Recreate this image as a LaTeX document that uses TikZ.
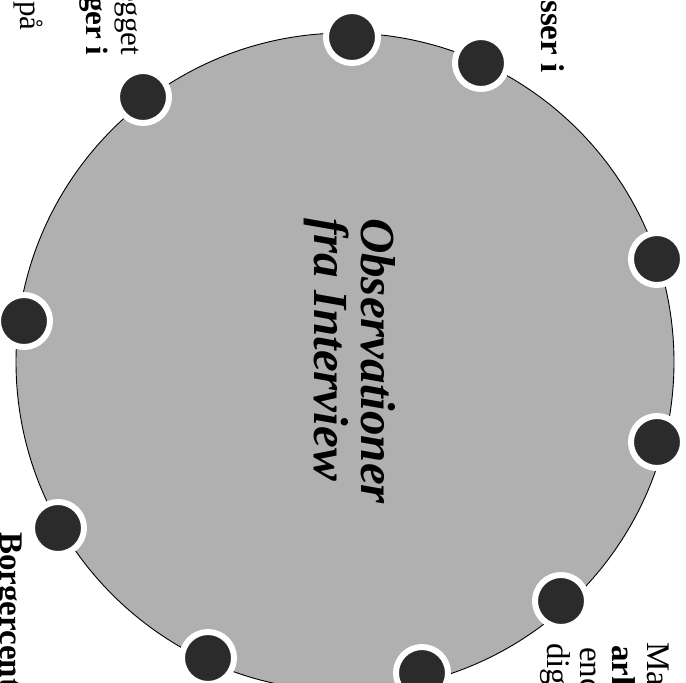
\documentclass[tikz,border=0pt]{standalone}
\usepackage{fontspec}
\setmainfont{Liberation Serif}
\definecolor{hubgray}{gray}{0.69}
\definecolor{satdark}{gray}{0.17}
\begin{document}
\begin{tikzpicture}[x=1pt,y=-1pt,
  hubstyle/.style={circle, fill=hubgray, draw=black, line width=0.9pt, minimum size=658pt, inner sep=0pt},
  sat/.style={circle, fill=satdark, draw=white, line width=6pt, minimum size=52pt, inner sep=0pt},
  bodytxt/.style={rotate=-90, anchor=base west, inner sep=0pt, font=\fontsize{33}{33}\selectfont},
  smalltxt/.style={rotate=-90, anchor=base west, inner sep=0pt, font=\fontsize{31}{31}\selectfont},
  titletxt/.style={rotate=-90, anchor=center, align=left, inner sep=0pt, font=\fontsize{49}{47}\selectfont\bfseries\itshape}
]
\useasboundingbox (0,0) rectangle (686,683);
\fill[white] (0,0) rectangle (686,683);
% central circle
\node[hubstyle] (hub) at (345,362) {};
\node[titletxt] (title) at (350,361) {Observationer\\fra Interview};
% satellites
\node[sat] (s1) at (143,97) {};
\node[sat] (s2) at (352,37) {};
\node[sat] (s3) at (481,63) {};
\node[sat] (s4) at (657,259) {};
\node[sat] (s5) at (657,442) {};
\node[sat] (s6) at (561,601) {};
\node[sat] (s7) at (422,673) {};
\node[sat] (s8) at (208,658) {};
\node[sat] (s9) at (58,528) {};
\node[sat] (s10) at (24,321) {};
% text fragments cut by the picture's edges
\node[smalltxt] (tl1) at (121,-19) {ægget};
\node[smalltxt] (tl2) at (86,-4) {\textbf{ger i}};
\node[smalltxt] (tl3) at (20,1) {på};
\node[bodytxt] (tr1) at (541,0) {\textbf{sser i}};
\node[bodytxt] (br1) at (647,642) {Ma};
\node[bodytxt] (br2) at (612,645) {\textbf{ark}};
\node[bodytxt] (br3) at (580,647) {enc};
\node[bodytxt] (br4) at (547,643) {dig};
\node[bodytxt] (bl1) at (1,532) {\textbf{Borgercent}};
\end{tikzpicture}
\end{document}
